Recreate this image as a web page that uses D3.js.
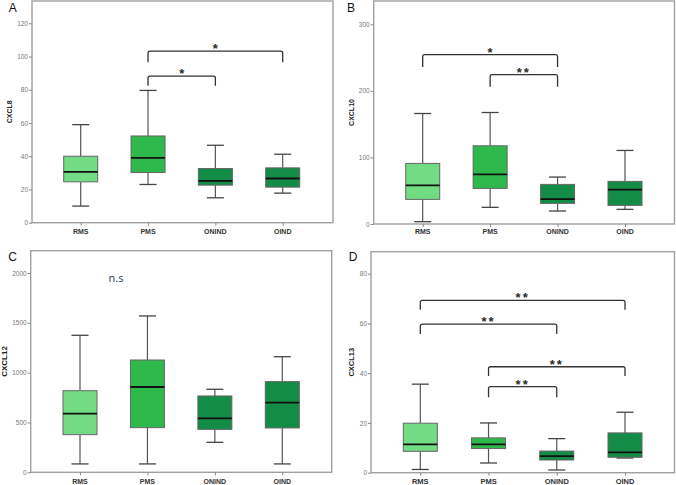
<!DOCTYPE html>
<html>
<head>
<meta charset="utf-8">
<script src="https://cdn.jsdelivr.net/npm/d3@7/dist/d3.min.js"></script>
<style>
  html, body { margin: 0; padding: 0; background: #fff; }
  svg { display: block; }
</style>
</head>
<body>
<svg id="chart" width="676" height="485"></svg>
<script>
// ---------- DATA ----------
const categories = ["RMS", "PMS", "ONIND", "OIND"];

// box stats per category: [whiskerLow, Q1, median, Q3, whiskerHigh]
const cxcl8  = [[10, 24.6, 30.6, 40, 59], [23, 30.2, 39, 52.2, 79.6], [15, 22.6, 25.2, 32.6, 46.6], [17.8, 21.4, 26.6, 33, 41.2]];
const cxcl10 = [[3.5, 37, 58, 91, 166], [25, 53.5, 74.5, 117.5, 167.5], [19.5, 31, 37.5, 59.5, 70.5], [22, 28, 51.5, 64, 110.5]];
const cxcl12 = [[84, 378, 589, 819, 1375], [84, 448, 856, 1127, 1569], [301, 431, 542, 766, 833], [84, 445, 699, 910, 1160]];
const cxcl13 = [[1.3, 8.6, 11.4, 19.9, 35.6], [3.9, 9.7, 11.4, 14, 20], [1.1, 5.1, 6.7, 8.7, 13.7], [5.9, 6.2, 8.2, 16, 24.3]];

const ticks8  = [0, 20, 40, 60, 80, 100, 120];
const ticks10 = [0, 100, 200, 300];
const ticks12 = [0, 500, 1000, 1500, 2000];
const ticks13 = [0, 20, 40, 60, 80];

// significance brackets: [from, to, topValue, legValue, label]
const brackets8  = [["PMS", "OIND", 103.2, 96.6, "*"], ["PMS", "ONIND", 88.2, 82.4, "*"]];
const brackets10 = [["RMS", "ONIND", 254.5, 236, "*"], ["PMS", "ONIND", 224.5, 206, "**"]];
const brackets12 = [];
const brackets13 = [["RMS", "OIND", 69.3, 65.5, "**"], ["RMS", "ONIND", 59.7, 55.8, "**"],
                    ["PMS", "OIND", 42.6, 38.9, "**"], ["PMS", "ONIND", 34.6, 30.3, "**"]];

const panels = [
  { letter: "A", ylabel: "CXCL8",  stats: cxcl8,  ticks: ticks8,  brackets: brackets8 },
  { letter: "B", ylabel: "CXCL10", stats: cxcl10, ticks: ticks10, brackets: brackets10 },
  { letter: "C", ylabel: "CXCL12", stats: cxcl12, ticks: ticks12, brackets: brackets12, note: "n.s" },
  { letter: "D", ylabel: "CXCL13", stats: cxcl13, ticks: ticks13, brackets: brackets13 }
];

// ---------- LAYOUT ----------
const layout = [
  { fx0: 32,    fx1: 333,   fy0: 1,     fy1: 222.7, cx0: 80.7,  cx1: 282.7, tickTopY: 23.3,  ylabX: 9.5,  letX: 12.7, letY: 11.5, catY: 233.5, labFs: 7,   catFs: 7 },
  { fx0: 373.7, fx1: 674.5, fy0: 1,     fy1: 224,   cx0: 422.7, cx1: 625,   tickTopY: 24.3,  ylabX: 351,  letX: 351,  letY: 11.5, catY: 233.5, labFs: 7,   catFs: 7 },
  { fx0: 30.7,  fx1: 331.7, fy0: 250.7, fy1: 472.3, cx0: 80,    cx1: 282.3, tickTopY: 273,   ylabX: 4.5,  letX: 12.7, letY: 261,  catY: 483.5, labFs: 8,   catFs: 7 },
  { fx0: 371,   fx1: 674.5, fy0: 251.7, fy1: 472.7, cx0: 420.3, cx1: 625,   tickTopY: 273.7, ylabX: 351,  letX: 353,  letY: 260.5, catY: 483.5, labFs: 7.5, catFs: 7.5, noteX: 0, noteY: 0 }
];
layout[2].noteX = 116; layout[2].noteY = 282;

const colors = ["#72dc84", "#2fb84b", "#138c47", "#138c47"];
const boxW = 34, capW = 17;

const svg = d3.select("#chart");

panels.forEach((p, i) => {
  const L = layout[i];
  const g = svg.append("g");
  const x = d3.scalePoint().domain(categories).range([L.cx0, L.cx1]);
  const maxT = d3.max(p.ticks);
  const y = d3.scaleLinear().domain([0, maxT]).range([L.fy1, L.tickTopY]);

  // frame
  g.append("rect")
    .attr("x", L.fx0).attr("y", L.fy0)
    .attr("width", L.fx1 - L.fx0).attr("height", L.fy1 - L.fy0)
    .attr("fill", "#fff").attr("stroke", "#a0a0a0").attr("stroke-width", 1.4);

  // y axis
  const yAxis = d3.axisLeft(y).tickValues(p.ticks).tickSize(3).tickPadding(1).tickFormat(d3.format("d"));
  const ya = g.append("g").attr("transform", `translate(${L.fx0},0)`).call(yAxis);
  ya.select(".domain").remove();
  ya.selectAll(".tick line").attr("stroke", "#888");
  ya.selectAll(".tick text").attr("fill", "#777").style("font-family", "Liberation Sans, Arial, sans-serif").style("font-size", "6.5px");

  // x axis
  const xAxis = d3.axisBottom(x).tickSize(3).tickPadding(4);
  const xa = g.append("g").attr("transform", `translate(0,${L.fy1})`).call(xAxis);
  xa.select(".domain").remove();
  xa.selectAll(".tick line").attr("stroke", "#888");
  xa.selectAll(".tick text").remove();
  g.selectAll(".catlab").data(categories).enter().append("text")
    .attr("x", d => x(d)).attr("y", L.catY)
    .attr("text-anchor", "middle")
    .style("font-family", "Liberation Sans, Arial, sans-serif").style("font-size", L.catFs + "px").style("font-weight", "bold")
    .attr("fill", "#333").text(d => d);

  // y label
  g.append("text")
    .attr("transform", `translate(${L.ylabX + 2.5},${(L.fy0 + L.fy1) / 2}) rotate(-90)`)
    .attr("text-anchor", "middle")
    .style("font-family", "Liberation Sans, Arial, sans-serif").style("font-size", L.labFs + "px").style("font-weight", "bold")
    .attr("fill", "#222").text(p.ylabel);

  // panel letter
  g.append("text").attr("x", L.letX).attr("y", L.letY).attr("text-anchor", "middle")
    .style("font-family", "Liberation Sans, Arial, sans-serif").style("font-size", "12px")
    .attr("fill", "#111").text(p.letter);

  // boxes
  categories.forEach((c, k) => {
    const s = p.stats[k];
    const cx = x(c);
    const bg = g.append("g");
    bg.append("line").attr("x1", cx).attr("x2", cx).attr("y1", y(s[0])).attr("y2", y(s[1]))
      .attr("stroke", "#555").attr("stroke-width", 1.2);
    bg.append("line").attr("x1", cx).attr("x2", cx).attr("y1", y(s[3])).attr("y2", y(s[4]))
      .attr("stroke", "#555").attr("stroke-width", 1.2);
    bg.append("line").attr("x1", cx - capW / 2).attr("x2", cx + capW / 2).attr("y1", y(s[0])).attr("y2", y(s[0]))
      .attr("stroke", "#444").attr("stroke-width", 1.3);
    bg.append("line").attr("x1", cx - capW / 2).attr("x2", cx + capW / 2).attr("y1", y(s[4])).attr("y2", y(s[4]))
      .attr("stroke", "#444").attr("stroke-width", 1.3);
    bg.append("rect").attr("x", cx - boxW / 2).attr("y", y(s[3]))
      .attr("width", boxW).attr("height", y(s[1]) - y(s[3]))
      .attr("fill", colors[k]).attr("stroke", "#666").attr("stroke-width", 1);
    bg.append("line").attr("x1", cx - boxW / 2).attr("x2", cx + boxW / 2).attr("y1", y(s[2])).attr("y2", y(s[2]))
      .attr("stroke", "#111").attr("stroke-width", 1.8);
  });

  // brackets
  p.brackets.forEach(b => {
    const xa0 = x(b[0]), xb0 = x(b[1]);
    const yt = y(b[2]), yl = y(b[3]);
    g.append("path")
      .attr("d", `M${xa0},${yl} L${xa0},${yt + 2} Q${xa0},${yt} ${xa0 + 2},${yt} L${xb0 - 2},${yt} Q${xb0},${yt} ${xb0},${yt + 2} L${xb0},${yl}`)
      .attr("fill", "none").attr("stroke", "#333").attr("stroke-width", 1.3);
    g.append("text").attr("x", (xa0 + xb0) / 2).attr("y", yt + 2)
      .attr("text-anchor", "middle")
      .style("font-family", "Liberation Sans, Arial, sans-serif").style("font-size", "13px").style("font-weight", "bold")
      .style("letter-spacing", b[4].length > 1 ? "2px" : "0px")
      .attr("fill", "#2a2a2a").text(b[4]);
  });

  if (p.note) {
    g.append("text").attr("x", L.noteX).attr("y", L.noteY).attr("text-anchor", "middle")
      .style("font-family", "Open Sans, Liberation Sans, sans-serif").style("font-size", "11px")
      .attr("fill", "#1f3b5c").text(p.note);
  }
});
</script>
</body>
</html>
